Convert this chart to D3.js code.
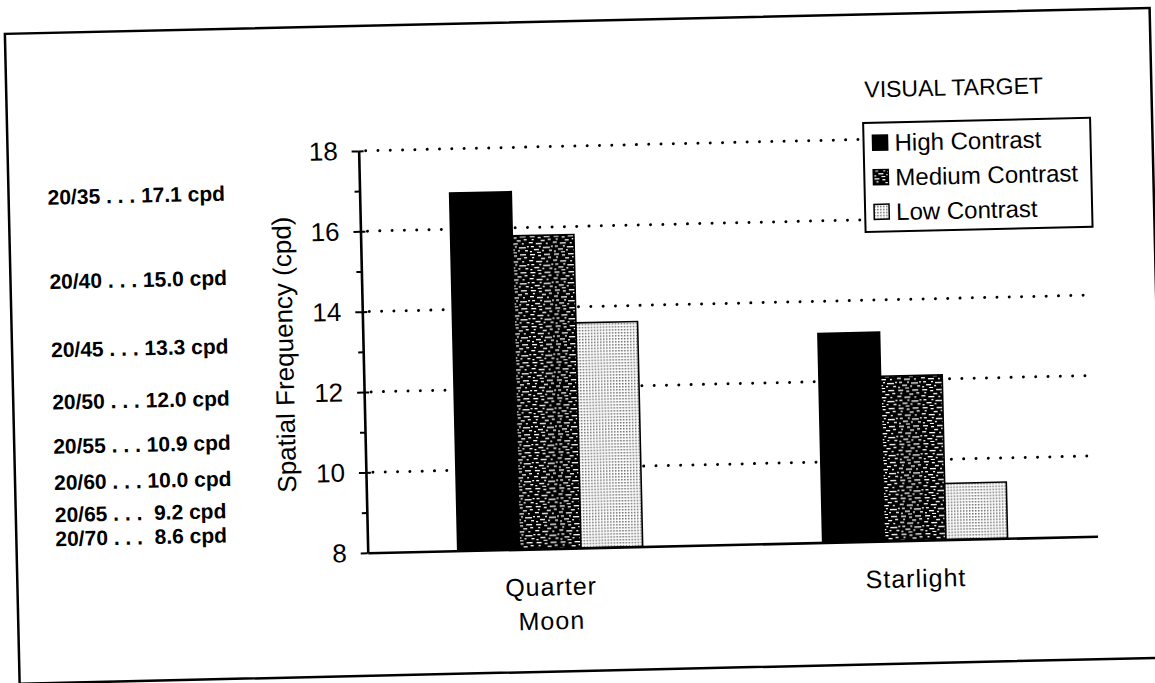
<!DOCTYPE html>
<html>
<head>
<meta charset="utf-8">
<script src="https://cdn.jsdelivr.net/npm/d3@7"></script>
<style>
  html, body { margin: 0; padding: 0; background: #fff; }
  svg { display: block; }
  text { font-family: "Liberation Sans", Arial, Helvetica, sans-serif; fill: #000; }
</style>
</head>
<body>
<svg id="chart" width="1155" height="683"></svg>
<script>
// ---- data ----
const categories = ["Quarter Moon", "Starlight"];
const series = ["High Contrast", "Medium Contrast", "Low Contrast"];
const highContrast = [16.9, 13.2];
const mediumContrast = [15.8, 12.1];
const lowContrast = [13.6, 9.4];
const yTicks = [8, 10, 12, 14, 16, 18];
const yMinorTicks = [9, 11, 13, 15, 17];
const acuityLabels = ["20/35", "20/40", "20/45", "20/50", "20/55", "20/60", "20/65", "20/70"];
const acuityCpd = [17.1, 15.0, 13.3, 12.0, 10.9, 10.0, 9.2, 8.6];
const legendTitle = "VISUAL TARGET";
const yTitle = "Spatial Frequency (cpd)";

const table = categories.map((c, i) => ({
  category: c,
  values: [highContrast[i], mediumContrast[i], lowContrast[i]]
}));

// ---- layout ----
const svg = d3.select("#chart");
svg.append("rect").attr("width", 1155).attr("height", 683).attr("fill", "#fff");

// fill patterns for the three contrast levels
const defs = svg.append("defs");
const med = defs.append("pattern").attr("id", "pat-medium")
  .attr("patternUnits", "userSpaceOnUse").attr("width", 24).attr("height", 18);
med.append("rect").attr("width", 24).attr("height", 18).attr("fill", "#000");
const streaks = [
  [1, 1, 5], [9, 2, 3], [15, 1, 6], [3, 4, 2], [12, 5, 4], [19, 4, 3],
  [0, 7, 4], [7, 8, 6], [17, 8, 2], [2, 11, 3], [10, 11, 2], [14, 12, 7],
  [5, 14, 5], [13, 15, 2], [20, 15, 3], [1, 16, 2], [8, 17, 4], [22, 11, 2]
];
med.selectAll("rect.s").data(streaks).join("rect").attr("class", "s")
  .attr("x", d => d[0]).attr("y", d => d[1]).attr("width", d => d[2]).attr("height", 1.3)
  .attr("fill", "#fff");

const low = defs.append("pattern").attr("id", "pat-low")
  .attr("patternUnits", "userSpaceOnUse").attr("width", 3).attr("height", 3);
low.append("rect").attr("width", 3).attr("height", 3).attr("fill", "#fff");
low.append("rect").attr("width", 1.5).attr("height", 1.5).attr("fill", "#6a6a6a");

const fills = {
  "High Contrast": "#000",
  "Medium Contrast": "url(#pat-medium)",
  "Low Contrast": "url(#pat-low)"
};

// whole sheet sits slightly askew
const g = svg.append("g").attr("transform", "rotate(-1.3, 577, 341)");

// outer frame
g.append("rect").attr("x", 12).attr("y", 21).attr("width", 1145).attr("height", 650)
  .attr("fill", "none").attr("stroke", "#000").attr("stroke-width", 2.5);

// scales
const x = d3.scaleBand().domain(categories).range([363, 1093]);
const xs = d3.scaleBand().domain(series).range([0, x.bandwidth()])
  .paddingInner(0).paddingOuter(1.46);
const y = d3.scaleLinear().domain([8, 18]).range([548, 146]);
const x0 = x.range()[0];
const xEnd = x.range()[1];

// dotted gridlines
g.append("g").selectAll("line").data(yTicks.filter(v => v > 8)).join("line")
  .attr("x1", x0 + 7).attr("x2", xEnd - 2)
  .attr("y1", d => y(d)).attr("y2", d => y(d))
  .attr("stroke", "#000").attr("stroke-width", 3)
  .attr("stroke-linecap", "round").attr("stroke-dasharray", "0.01 12.3");

// bars
g.append("g").selectAll("g").data(table).join("g")
  .attr("transform", d => `translate(${x(d.category)},0)`)
  .selectAll("rect").data(d => series.map((s, j) => ({ s, v: d.values[j] }))).join("rect")
  .attr("x", d => xs(d.s)).attr("y", d => y(d.v))
  .attr("width", xs.bandwidth()).attr("height", d => y(8) - y(d.v))
  .attr("fill", d => fills[d.s]).attr("stroke", "#000").attr("stroke-width", 1.6);

// y axis
const yAxis = d3.axisLeft(y).tickValues(yTicks).tickSizeInner(7).tickSizeOuter(0)
  .tickPadding(14).tickFormat(d3.format("d"));
const ya = g.append("g").attr("transform", `translate(${x0},0)`).call(yAxis);
ya.select(".domain").attr("stroke-width", 2.6);
ya.selectAll(".tick line").attr("stroke-width", 2);
ya.selectAll(".tick text").attr("font-size", 26).attr("font-family", null);
ya.selectAll(".tick").filter(d => d > 8).append("line")
  .attr("x1", 0).attr("x2", 5).attr("stroke", "#000").attr("stroke-width", 2);

const yMinor = d3.axisLeft(y).tickValues(yMinorTicks).tickSize(5).tickFormat("");
const ym = g.append("g").attr("transform", `translate(${x0},0)`).call(yMinor);
ym.select(".domain").remove();
ym.selectAll(".tick line").attr("stroke-width", 2);

// x axis
const xAxis = d3.axisBottom(x).tickSize(0).tickSizeOuter(0).tickPadding(29);
const xa = g.append("g").attr("transform", `translate(0,${y(8)})`).call(xAxis);
xa.select(".domain").attr("stroke-width", 2.6);
xa.selectAll(".tick text").attr("font-size", 25).attr("font-family", null)
  .each(function (d) {
    const t = d3.select(this);
    const lines = d.split(" ");
    t.text(null);
    lines.forEach((ln, i) => {
      t.append("tspan").attr("x", 0).attr("dy", i === 0 ? "0.71em" : 34).text(ln);
    });
  });
xa.selectAll(".tick text").attr("dy", null).attr("letter-spacing", 1);

// y axis title
g.append("text")
  .attr("transform", `translate(293,348) rotate(-90)`)
  .attr("text-anchor", "middle").attr("font-size", 26)
  .text(yTitle);

// legend
g.append("text").attr("x", 870).attr("y", 104).attr("font-size", 23).text(legendTitle);
const lg = g.append("g").attr("transform", "translate(868,129.5)");
lg.append("rect").attr("width", 227).attr("height", 109)
  .attr("fill", "#fff").attr("stroke", "#000").attr("stroke-width", 2);
const li = lg.selectAll("g").data(series).join("g")
  .attr("transform", (d, i) => `translate(9,${20 + i * 34.6})`);
li.append("rect").attr("x", 0).attr("y", -7.5).attr("width", 15).attr("height", 15)
  .attr("fill", d => fills[d]).attr("stroke", "#000").attr("stroke-width", 1.5);
li.append("text").attr("x", 22).attr("y", 8.6).attr("font-size", 24).text(d => d);

// acuity equivalents placed on the frequency scale
g.append("g").selectAll("text").data(acuityLabels).join("text")
  .attr("x", 51)
  .attr("y", (d, i) => y(acuityCpd[i]) + 10.5)
  .attr("font-size", 21).attr("font-weight", "bold")
  .style("white-space", "pre")
  .text((d, i) => {
    const v = acuityCpd[i].toFixed(1);
    return `${d} . . . ${v.length < 4 ? " " : ""}${v} cpd`;
  });
</script>
</body>
</html>
